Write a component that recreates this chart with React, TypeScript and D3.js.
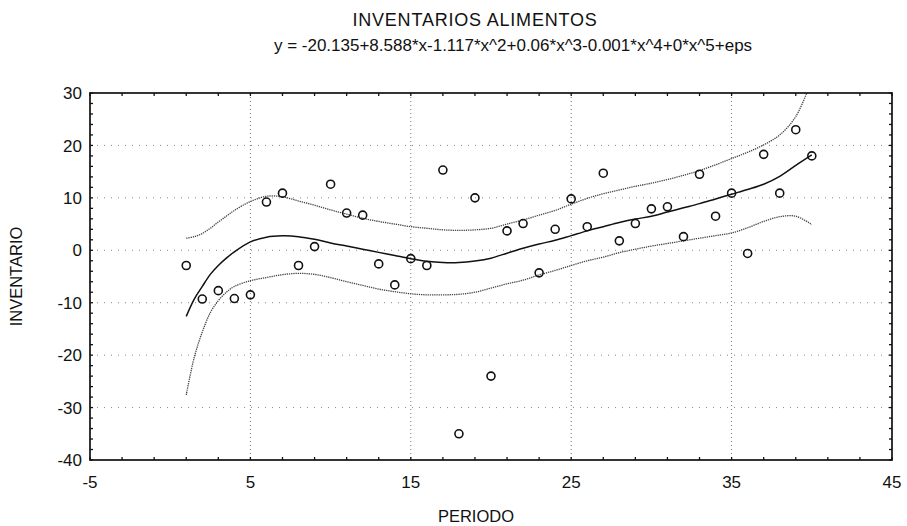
import React from "react";
import * as d3 from "d3";

// Observed inventory per period
const periods = d3.range(1, 41);
const inventario = [
  -2.9, -9.3, -7.7, -9.2, -8.5, 9.2, 10.9, -2.9, 0.7, 12.6,
  7.1, 6.7, -2.6, -6.6, -1.6, -2.9, 15.3, -35.0, 10.0, -24.0,
  3.7, 5.1, -4.3, 4.0, 9.8, 4.5, 14.7, 1.8, 5.1, 7.9,
  8.3, 2.6, 14.5, 6.5, 10.9, -0.6, 18.3, 10.9, 23.0, 18.0,
];

// Fitted polynomial and its confidence band, sampled along the period axis
const curveX = [1, 1.5, 2, 2.5, 3, 3.5, 4, 5, 6, 7, 8, 9, 10, 11, 12, 13, 14, 15, 16, 17, 18, 19, 20,
  21, 22, 23, 24, 25, 26, 27, 28, 29, 30, 31, 32, 33, 34, 35, 36, 37, 38, 39, 40];
const ajuste = [-12.6, -9.3, -6.9, -4.6, -2.9, -1.5, -0.3, 1.6, 2.5, 2.75, 2.6, 2.1, 1.4, 0.8, 0.2, -0.4,
  -1.0, -1.6, -2.1, -2.35, -2.35, -2.05, -1.5, -0.55, 0.4, 1.2, 1.9, 2.8, 3.7, 4.5, 5.3, 5.95, 6.5,
  7.3, 8.1, 8.9, 9.8, 10.7, 11.6, 12.6, 14.1, 16.2, 18.2];
const superior = [2.3, 2.6, 3.2, 4.2, 5.4, 6.5, 7.6, 9.3, 10.3, 10.2, 9.4, 8.6, 7.7, 6.9, 6.1, 5.5,
  5.0, 4.5, 4.2, 3.9, 3.8, 3.9, 4.2, 5.0, 5.8, 6.7, 7.6, 8.8, 9.9, 10.8, 11.5, 12.2, 12.8,
  13.5, 14.3, 15.2, 16.3, 17.5, 18.7, 20.1, 22.0, 25.5, 32.5];
const inferior = [-27.6, -20.4, -15.6, -11.9, -9.6, -8.0, -6.9, -5.8, -5.2, -4.65, -4.4, -4.6, -5.2,
  -6.0, -6.7, -7.4, -7.9, -8.3, -8.5, -8.5, -8.4, -8.0, -7.2, -6.4, -5.7, -4.7, -3.85, -2.9, -2.0,
  -1.3, -0.45, 0.2, 0.8, 1.3, 1.8, 2.3, 2.8, 3.3, 4.3, 5.5, 6.4, 6.5, 4.9];

const xTicks = [-5, 5, 15, 25, 35, 45];
const yTicks = [-40, -30, -20, -10, 0, 10, 20, 30];

const W = 907;
const H = 526;
const FONT = "'Liberation Sans', Arial, Helvetica, sans-serif";

export default function App() {
  const x = d3.scaleLinear().domain([-5, 45]).range([90, 892]);
  const y = d3.scaleLinear().domain([-40, 30]).range([460, 93]);
  const [x0, x1] = x.range();
  const [y0, y1] = y.range();

  const line = d3
    .line<[number, number]>()
    .x((d) => x(d[0]))
    .y((d) => y(d[1]))
    .curve(d3.curveCatmullRom.alpha(0.5));

  const series = (vals: number[]) => line(curveX.map((cx, i) => [cx, vals[i]] as [number, number])) || "";

  const minorX = d3.range(-5, 45.001, 2);
  const minorY = d3.range(-40, 30.001, 2);
  const tl = 3;

  return (
    <svg
      width={W}
      height={H}
      style={{ position: "absolute", left: 0, top: 0, background: "#fff" }}
      fontFamily={FONT}
    >
      <defs>
        <clipPath id="plotArea">
          <rect x={x0} y={y1} width={x1 - x0} height={y0 - y1} />
        </clipPath>
      </defs>
      <rect width={W} height={H} fill="#fff" />

      {/* titles */}
      <text x={475} y={26} textAnchor="middle" fontSize={18} letterSpacing={0.8} fill="#111">
        INVENTARIOS ALIMENTOS
      </text>
      <text x={513} y={51} textAnchor="middle" fontSize={17} fill="#111">
        y = -20.135+8.588*x-1.117*x^2+0.06*x^3-0.001*x^4+0*x^5+eps
      </text>

      {/* grid */}
      {xTicks.slice(1, -1).map((t) => (
        <line key={"gx" + t} x1={x(t)} x2={x(t)} y1={y1} y2={y0} stroke="#777" strokeWidth={1} strokeDasharray="1,3" />
      ))}
      {yTicks.slice(1, -1).map((t) => (
        <line key={"gy" + t} x1={x0} x2={x1} y1={y(t)} y2={y(t)} stroke="#888" strokeWidth={1} strokeDasharray="1,6" />
      ))}

      {/* fit and confidence band */}
      <g clipPath="url(#plotArea)" fill="none">
        <path d={series(superior)} stroke="#444" strokeWidth={1.3} strokeDasharray="1.3,0.9" />
        <path d={series(inferior)} stroke="#444" strokeWidth={1.3} strokeDasharray="1.3,0.9" />
        <path d={series(ajuste)} stroke="#111" strokeWidth={1.5} />
      </g>

      {/* observations */}
      {periods.map((p, i) => (
        <circle key={"p" + p} cx={x(p)} cy={y(inventario[i])} r={4} fill="none" stroke="#111" strokeWidth={1.6} />
      ))}

      {/* frame and inward ticks */}
      <rect x={x0} y={y1} width={x1 - x0} height={y0 - y1} fill="none" stroke="#111" strokeWidth={1.7} />
      {minorX.map((t) => (
        <g key={"tx" + t}>
          <line x1={x(t)} x2={x(t)} y1={y0} y2={y0 - tl} stroke="#111" strokeWidth={1.3} />
          <line x1={x(t)} x2={x(t)} y1={y1} y2={y1 + tl} stroke="#111" strokeWidth={1.3} />
        </g>
      ))}
      {minorY.map((t) => (
        <g key={"ty" + t}>
          <line x1={x0} x2={x0 + tl} y1={y(t)} y2={y(t)} stroke="#111" strokeWidth={1.3} />
          <line x1={x1} x2={x1 - tl} y1={y(t)} y2={y(t)} stroke="#111" strokeWidth={1.3} />
        </g>
      ))}

      {/* tick labels */}
      {xTicks.map((t) => (
        <text key={"lx" + t} x={x(t)} y={y0 + 28} textAnchor="middle" fontSize={17} fill="#111">
          {t}
        </text>
      ))}
      {yTicks.map((t) => (
        <text key={"ly" + t} x={x0 - 8} y={y(t)} dy="0.36em" textAnchor="end" fontSize={17} fill="#111">
          {t}
        </text>
      ))}

      {/* axis titles */}
      <text x={476} y={522} textAnchor="middle" fontSize={16.5} fill="#111">
        PERIODO
      </text>
      <text
        transform={`translate(22, ${(y0 + y1) / 2}) rotate(-90)`}
        textAnchor="middle"
        fontSize={16.5}
        fill="#111"
      >
        INVENTARIO
      </text>
    </svg>
  );
}
